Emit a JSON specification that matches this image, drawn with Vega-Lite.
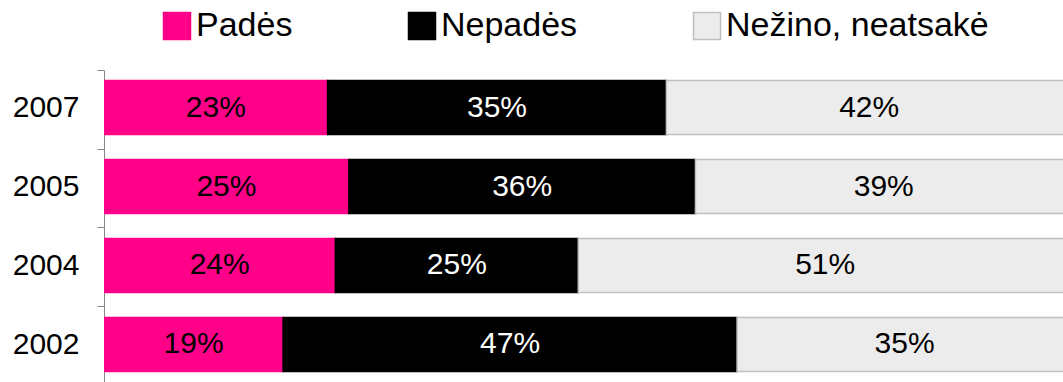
{
  "$schema": "https://vega.github.io/schema/vega-lite/v6.json",
  "width": 959,
  "height": 312,
  "autosize": "none",
  "padding": {"left": 104, "top": 70, "right": 0, "bottom": 0},
  "config": {"view": {"stroke": null}, "font": "Liberation Sans"},
  "data": {
    "values": [
      {"year": "2007", "cat": "Padės", "order": 1, "value": 23.1, "label": "23%"},
      {"year": "2007", "cat": "Nepadės", "order": 2, "value": 35.0, "label": "35%"},
      {"year": "2007", "cat": "Nežino, neatsakė", "order": 3, "value": 41.9, "label": "42%"},
      {"year": "2005", "cat": "Padės", "order": 1, "value": 25.3, "label": "25%"},
      {"year": "2005", "cat": "Nepadės", "order": 2, "value": 35.8, "label": "36%"},
      {"year": "2005", "cat": "Nežino, neatsakė", "order": 3, "value": 38.9, "label": "39%"},
      {"year": "2004", "cat": "Padės", "order": 1, "value": 23.9, "label": "24%"},
      {"year": "2004", "cat": "Nepadės", "order": 2, "value": 25.1, "label": "25%"},
      {"year": "2004", "cat": "Nežino, neatsakė", "order": 3, "value": 51.0, "label": "51%"},
      {"year": "2002", "cat": "Padės", "order": 1, "value": 18.5, "label": "19%"},
      {"year": "2002", "cat": "Nepadės", "order": 2, "value": 46.9, "label": "47%"},
      {"year": "2002", "cat": "Nežino, neatsakė", "order": 3, "value": 34.6, "label": "35%"}
    ]
  },
  "transform": [
    {"stack": "value", "groupby": ["year"], "sort": [{"field": "order"}], "as": ["v0", "v1"]},
    {"calculate": "(datum.v0 + datum.v1) / 2", "as": "mid"}
  ],
  "encoding": {
    "y": {
      "field": "year",
      "type": "nominal",
      "sort": ["2007", "2005", "2004", "2002"],
      "scale": {"paddingInner": 0.316, "paddingOuter": 0.133},
      "axis": {
        "title": null,
        "domainColor": "#868686",
        "domainWidth": 1,
        "tickColor": "#868686",
        "tickWidth": 1,
        "tickSize": 7,
        "tickOffset": -38,
        "labelOffset": 38,
        "labelPadding": 18,
        "labelFontSize": 30,
        "labelColor": "#000000",
        "labelFont": "Liberation Sans"
      }
    }
  },
  "layer": [
    {
      "mark": {"type": "bar", "clip": true, "strokeWidth": 1.5},
      "encoding": {
        "x": {"field": "v0", "type": "quantitative", "scale": {"domain": [0, 99.07], "nice": false, "zero": false}, "axis": null},
        "x2": {"field": "v1"},
        "fill": {
          "field": "cat",
          "type": "nominal",
          "scale": {"domain": ["Padės", "Nepadės", "Nežino, neatsakė"], "range": ["#ff0088", "#000000", "#ececec"]},
          "legend": {
            "orient": "none", "legendX": 56, "legendY": -61, "direction": "horizontal", "title": null,
            "symbolType": "square", "symbolSize": 729, "labelFontSize": 34, "labelFont": "Liberation Sans", "labelLimit": 600,
            "labelColor": "#000000", "labelOffset": 2, "columnPadding": 112, "symbolStrokeWidth": 1.5, "padding": 0
          }
        },
        "stroke": {
          "field": "cat",
          "type": "nominal",
          "scale": {"domain": ["Padės", "Nepadės", "Nežino, neatsakė"], "range": ["#ff0088", "#000000", "#c0c0c0"]},
          "legend": {
            "orient": "none", "legendX": 56, "legendY": -61, "direction": "horizontal", "title": null,
            "symbolType": "square", "symbolSize": 729, "labelFontSize": 34, "labelFont": "Liberation Sans", "labelLimit": 600,
            "labelColor": "#000000", "labelOffset": 2, "columnPadding": 112, "symbolStrokeWidth": 1.5, "padding": 0
          }
        }
      }
    },
    {
      "mark": {"type": "text", "fontSize": 30, "font": "Liberation Sans"},
      "encoding": {
        "x": {"field": "mid", "type": "quantitative"},
        "text": {"field": "label"},
        "color": {"condition": {"test": "datum.cat === 'Nepadės'", "value": "#ffffff"}, "value": "#000000"}
      }
    }
  ]
}
